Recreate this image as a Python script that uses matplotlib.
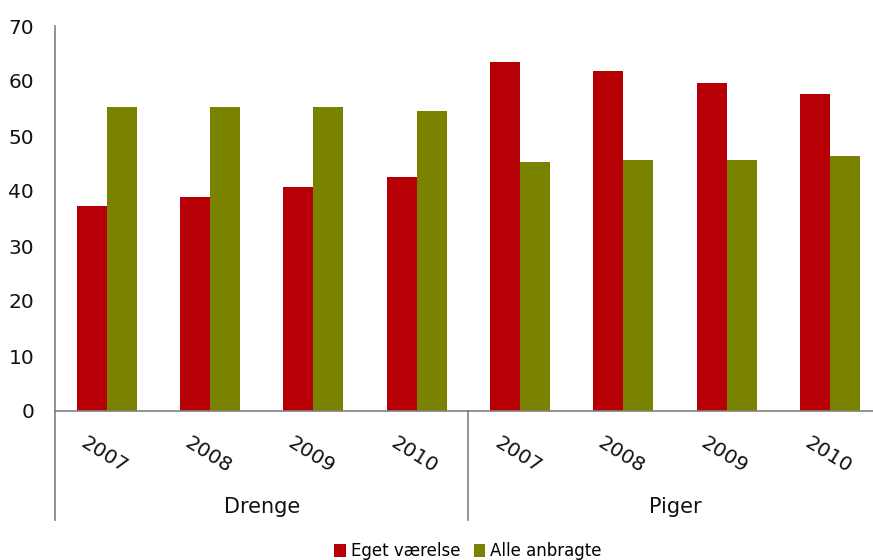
import numpy as np
import matplotlib
matplotlib.use("Agg")
import matplotlib.pyplot as plt

# ── DATA ────────────────────────────────────────────────────────────────
groups = ["Drenge", "Piger"]
years = ["2007", "2008", "2009", "2010"]
eget_vaerelse = [37.2, 39.0, 40.8, 42.6, 63.4, 61.8, 59.6, 57.6]
alle_anbragte = [55.2, 55.2, 55.2, 54.5, 45.2, 45.6, 45.6, 46.3]

RED = '#B70005'
GREEN = '#7A8300'
AXIS = '#808080'
TXT = '#111111'

plt.rcParams['font.family'] = ['DejaVu Sans']

fig = plt.figure(figsize=(8.73, 5.6), dpi=100, facecolor='white')
ax = fig.add_axes([55/873, 149/560, 826.6/873, 385/560])

x = np.arange(len(eget_vaerelse))
w = 0.29
ax.bar(x - w/2, eget_vaerelse, w, color=RED, edgecolor='none', label='Eget værelse')
ax.bar(x + w/2, alle_anbragte, w, color=GREEN, edgecolor='none', label='Alle anbragte')

ax.set_xlim(-0.5, len(x) - 0.5)
ax.set_ylim(0, 70)
ax.set_yticks(range(0, 71, 10))
ax.tick_params(axis='y', length=0, pad=15, labelsize=14.5, colors=TXT)
ax.set_xticks([])

for side in ['top', 'right']:
    ax.spines[side].set_visible(False)
for side in ['left', 'bottom']:
    ax.spines[side].set_color(AXIS)
    ax.spines[side].set_linewidth(1.2)

# year labels and group labels below the axis
for i in x:
    ax.text(i - 0.02, -8.0, years[i % 4], rotation=-32, ha='center', va='center',
            fontsize=14.5, color=TXT, clip_on=False)
for g, name in enumerate(groups):
    ax.text(1.5 + 4*g, -17.5, name, ha='center', va='center', fontsize=15,
            color=TXT, clip_on=False)

# group divider lines
for xd in [-0.5, 3.5]:
    ax.plot([xd, xd], [0, -19.9], color=AXIS, lw=1.2, clip_on=False)

fig.legend(loc='center', bbox_to_anchor=(468/873, 9/560), ncol=2, frameon=False,
           fontsize=12, handlelength=0.7, handleheight=0.85, handletextpad=0.3,
           columnspacing=0.8, borderpad=0)

fig.savefig("out.png", dpi=100, facecolor='white')
